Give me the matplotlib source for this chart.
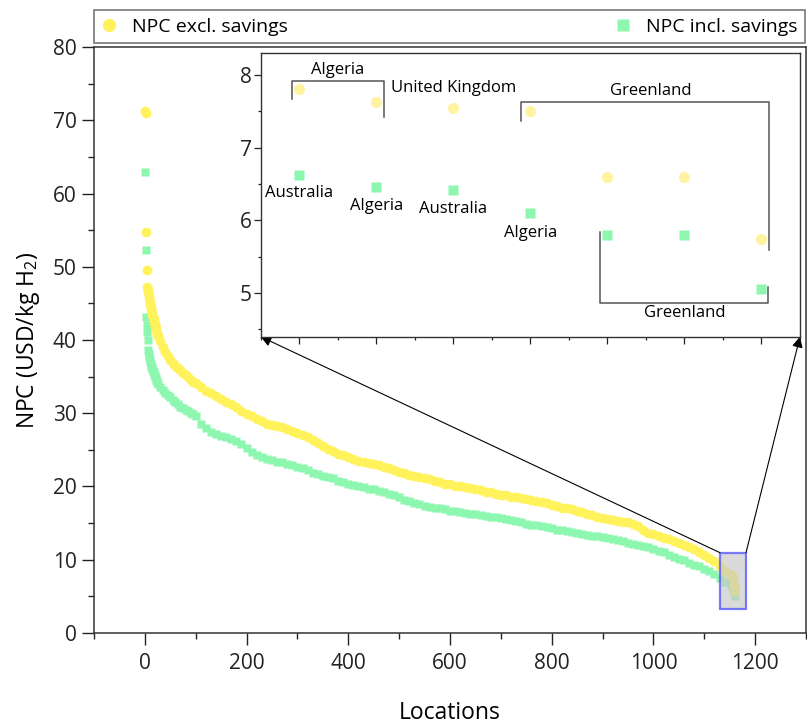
import numpy as np
import matplotlib
matplotlib.use("Agg")
import matplotlib.pyplot as plt
from matplotlib.lines import Line2D
from matplotlib.patches import Rectangle
from matplotlib.ticker import MultipleLocator, NullFormatter

plt.rcParams['font.family'] = ['Open Sans', 'DejaVu Sans']
plt.rcParams['mathtext.fontset'] = 'custom'
plt.rcParams['mathtext.rm'] = 'Open Sans'
plt.rcParams['mathtext.it'] = 'Open Sans:italic'

# ---------------- data ----------------
# first locations (one per location)
excl_head = [71.3, 71.0, 54.8, 49.6, 47.3, 47.0, 46.6, 46.2, 45.7, 45.2, 44.8, 44.5,
             44.1, 43.8, 43.4, 43.1, 42.8, 42.5, 42.2, 41.9, 41.6, 41.3, 41.0, 40.8]
incl_head = [62.9, 52.3, 43.1, 42.0, 41.1, 40.0, 38.6, 38.1, 37.7, 37.3, 37.0, 36.7,
             36.4, 36.2, 36.0, 35.8, 35.6, 35.4, 35.2, 35.0, 34.8, 34.6, 34.4, 34.2]
# locations 25..95, every 5
excl_early = [40.5, 39.8, 39.0, 38.4, 37.8, 37.3, 36.9, 36.5, 36.2, 35.9, 35.5, 35.2, 34.9, 34.6, 34.3]
incl_early = [34.0, 33.6, 33.2, 32.8, 32.5, 32.2, 31.8, 31.5, 31.2, 30.9, 30.7, 30.5, 30.3, 30.1, 29.9]
# locations 100..1150, every 10
excl_body = [34.1, 33.6, 33.1, 32.7, 32.3, 32.0, 31.6, 31.2, 30.8, 30.3,
             29.9, 29.6, 29.2, 28.9, 28.6, 28.4, 28.2, 28.1, 27.9, 27.6,
             27.3, 27.0, 26.7, 26.3, 25.9, 25.5, 25.1, 24.8, 24.5, 24.3,
             24.0, 23.7, 23.5, 23.4, 23.2, 23.1, 22.9, 22.7, 22.5, 22.3,
             22.0, 21.8, 21.6, 21.4, 21.3, 21.2, 21.0, 20.8, 20.6, 20.4,
             20.3, 20.1, 20.0, 19.9, 19.8, 19.6, 19.5, 19.3, 19.2, 19.0,
             18.9, 18.8, 18.6, 18.5, 18.4, 18.3, 18.1, 18.0, 17.9, 17.7,
             17.5, 17.3, 17.1, 17.0, 16.9, 16.7, 16.5, 16.3, 16.1, 15.9,
             15.7, 15.5, 15.4, 15.3, 15.2, 15.1, 14.9, 14.6, 14.0, 13.7,
             13.5, 13.2, 13.0, 12.8, 12.5, 12.3, 12.0, 11.7, 11.4, 11.1,
             10.7, 10.3, 9.8, 9.1, 8.5, 8.0]
incl_body = [29.6, 28.6, 28.0, 27.5, 27.2, 26.9, 26.7, 26.5, 26.2, 25.8,
             25.3, 24.7, 24.3, 24.0, 23.8, 23.6, 23.4, 23.3, 23.1, 22.9,
             22.7, 22.5, 22.2, 21.9, 21.7, 21.5, 21.3, 21.1, 20.8, 20.6,
             20.4, 20.2, 20.0, 19.9, 19.7, 19.6, 19.4, 19.2, 19.0, 18.8,
             18.5, 18.2, 18.0, 17.8, 17.6, 17.4, 17.2, 17.1, 17.0, 16.9,
             16.7, 16.6, 16.5, 16.4, 16.3, 16.2, 16.1, 16.0, 15.9, 15.8,
             15.7, 15.6, 15.4, 15.3, 15.1, 14.9, 14.8, 14.7, 14.6, 14.5,
             14.3, 14.1, 14.0, 13.9, 13.8, 13.6, 13.5, 13.4, 13.3, 13.2,
             13.1, 13.0, 12.9, 12.7, 12.5, 12.3, 12.1, 12.0, 11.9, 11.7,
             11.5, 11.2, 11.0, 10.7, 10.4, 10.1, 9.9, 9.6, 9.3, 9.1,
             8.8, 8.4, 8.0, 7.5, 7.0, 6.8]
# last seven locations (shown in the inset)
tail_locations = [1154, 1155, 1156, 1157, 1158, 1159, 1160]
excl_tail = [7.80, 7.62, 7.54, 7.50, 6.60, 6.60, 5.74]
incl_tail = [6.62, 6.46, 6.41, 6.10, 5.80, 5.80, 5.06]
excl_tail_countries = ["Algeria", "Algeria", "United Kingdom", "Greenland", "Greenland", "Greenland", "Greenland"]
incl_tail_countries = ["Australia", "Algeria", "Australia", "Algeria", "Greenland", "Greenland", "Greenland"]

legend_labels = ["NPC excl. savings", "NPC incl. savings"]
x_ticks = [0, 200, 400, 600, 800, 1000, 1200]
y_ticks = [0, 10, 20, 30, 40, 50, 60, 70, 80]
inset_y_ticks = [5, 6, 7, 8]

loc_head = np.arange(1, len(excl_head) + 1)
loc_early = np.arange(25, 25 + 5 * len(excl_early), 5)
loc_body = np.arange(100, 100 + 10 * len(excl_body), 10)
locations = np.concatenate([loc_head, loc_early, loc_body, tail_locations])
npc_excl = np.concatenate([excl_head, excl_early, excl_body, excl_tail])
npc_incl = np.concatenate([incl_head, incl_early, incl_body, incl_tail])

YEL = '#FFF25A'
GRN = '#8DF7B0'
YEL_IN = '#FFF3A0'

# ---------------- figure ----------------
fig = plt.figure(figsize=(8.07, 7.26), dpi=100)
ax = fig.add_axes([0.11648, 0.1281, 0.88228, 0.80716])

ax.plot(locations, npc_incl, ls='none', marker='s', ms=6.0, mec='none', mfc=GRN, zorder=2)
ax.plot(locations, npc_excl, ls='none', marker='o', ms=7.0, mec='none', mfc=YEL, zorder=3)

ax.set_xlim(-100, 1300)
ax.set_ylim(0, 80)
ax.set_xticks(x_ticks)
ax.set_yticks(y_ticks)
ax.xaxis.set_minor_locator(MultipleLocator(100))
ax.yaxis.set_minor_locator(MultipleLocator(5))
ax.tick_params(which='both', direction='out', top=False, right=False, colors='#222222')
ax.tick_params(which='major', length=8.5, width=1.0, labelsize=15, pad=4)
ax.tick_params(which='minor', length=4, width=1.0)
ax.tick_params(axis='x', which='major', pad=6)
for s in ax.spines.values():
    s.set_linewidth(1.1)
    s.set_color('#333333')
ax.set_xlabel('Locations', fontsize=16.5, labelpad=19)
ax.set_ylabel('NPC (USD/kg H$_\\mathregular{2}$)', fontsize=16.5, labelpad=8)

# zoom region marker
zoom_x = (1131, 1182)
zoom_y = (3.24, 10.96)
ax.add_patch(Rectangle((zoom_x[0], zoom_y[0]), zoom_x[1] - zoom_x[0], zoom_y[1] - zoom_y[0],
                       facecolor=(0.78, 0.78, 0.78, 0.65), edgecolor=(0.35, 0.35, 1.0, 0.8),
                       lw=1.6, zorder=4))

# ---------------- inset ----------------
axin = fig.add_axes([0.32305, 0.53623, 0.66828, 0.39077])
axin.set_zorder(5)
axin.set_facecolor('white')
axin.plot(tail_locations, excl_tail, ls='none', marker='o', ms=8.0, mec='none', mfc=YEL_IN)
axin.plot(tail_locations, incl_tail, ls='none', marker='s', ms=7.2, mec='none', mfc=GRN)
axin.set_xlim(tail_locations[0] - 0.5, tail_locations[-1] + 0.5)
axin.set_ylim(4.4, 8.3)
axin.set_yticks(inset_y_ticks)
axin.yaxis.set_minor_locator(MultipleLocator(0.5))
axin.xaxis.set_major_locator(MultipleLocator(1))
axin.xaxis.set_minor_locator(MultipleLocator(0.5))
axin.xaxis.set_major_formatter(NullFormatter())
axin.tick_params(which='both', direction='out', top=False, right=False, colors='#222222')
axin.tick_params(which='major', length=5, width=0.9, labelsize=15, pad=1.5)
axin.tick_params(which='minor', length=2.5, width=0.9)
for s in axin.spines.values():
    s.set_linewidth(1.0)
    s.set_color('#333333')

tx = tail_locations
bc = '#555555'
blw = 1.1
tfs = 12
# upper labels
axin.plot([tx[0] - 0.1, tx[0] - 0.1, tx[1] + 0.1, tx[1] + 0.1], [7.67, 7.912, 7.912, 7.42], color=bc, lw=blw)
axin.text((tx[0] + tx[1]) / 2, 8.07, excl_tail_countries[0], ha='center', va='center', fontsize=tfs)
axin.text(tx[2], 7.82, excl_tail_countries[2], ha='center', va='center', fontsize=tfs)
axin.plot([tx[3] - 0.12, tx[3] - 0.12, tx[6] + 0.1, tx[6] + 0.1], [7.36, 7.624, 7.624, 5.59], color=bc, lw=blw)
axin.text(tx[4] + 0.56, 7.78, excl_tail_countries[3], ha='center', va='center', fontsize=tfs)
# lower labels
axin.text(tx[0], 6.38, incl_tail_countries[0], ha='center', va='center', fontsize=tfs)
axin.text(tx[1], 6.20, incl_tail_countries[1], ha='center', va='center', fontsize=tfs)
axin.text(tx[2], 6.15, incl_tail_countries[2], ha='center', va='center', fontsize=tfs)
axin.text(tx[3], 5.83, incl_tail_countries[3], ha='center', va='center', fontsize=tfs)
axin.plot([tx[4] - 0.1, tx[4] - 0.1, tx[6] + 0.09, tx[6] + 0.09], [5.84, 4.863, 4.863, 5.08], color=bc, lw=blw)
axin.text(tx[5], 4.72, incl_tail_countries[4], ha='center', va='center', fontsize=tfs)

# arrows from zoom box to inset corners
arrow_kw = dict(arrowstyle='-|>', color='black', lw=0.8, shrinkA=0, shrinkB=0, mutation_scale=16)
ax.annotate('', xy=(0, 0), xycoords=axin.transAxes, xytext=(zoom_x[0], zoom_y[1]),
            textcoords='data', arrowprops=arrow_kw, zorder=6)
ax.annotate('', xy=(1, 0), xycoords=axin.transAxes, xytext=(zoom_x[1], zoom_y[1]),
            textcoords='data', arrowprops=arrow_kw, zorder=6)

# ---------------- legend ----------------
handles = [Line2D([], [], ls='none', marker='o', ms=9.5, mec='none', mfc=YEL),
           Line2D([], [], ls='none', marker='s', ms=9.0, mec='none', mfc=GRN)]
leg = fig.legend(handles, legend_labels, loc='lower left', ncol=2, mode='expand',
                 bbox_to_anchor=(0.1161, 0.9408, 0.881, 0.0482), borderaxespad=0,
                 fontsize=14, frameon=True, fancybox=False, borderpad=0.38,
                 handlelength=0.85, handletextpad=0.75)
leg.get_frame().set_edgecolor('#555555')
leg.get_frame().set_linewidth(1.2)

fig.savefig('out.png', dpi=100)
